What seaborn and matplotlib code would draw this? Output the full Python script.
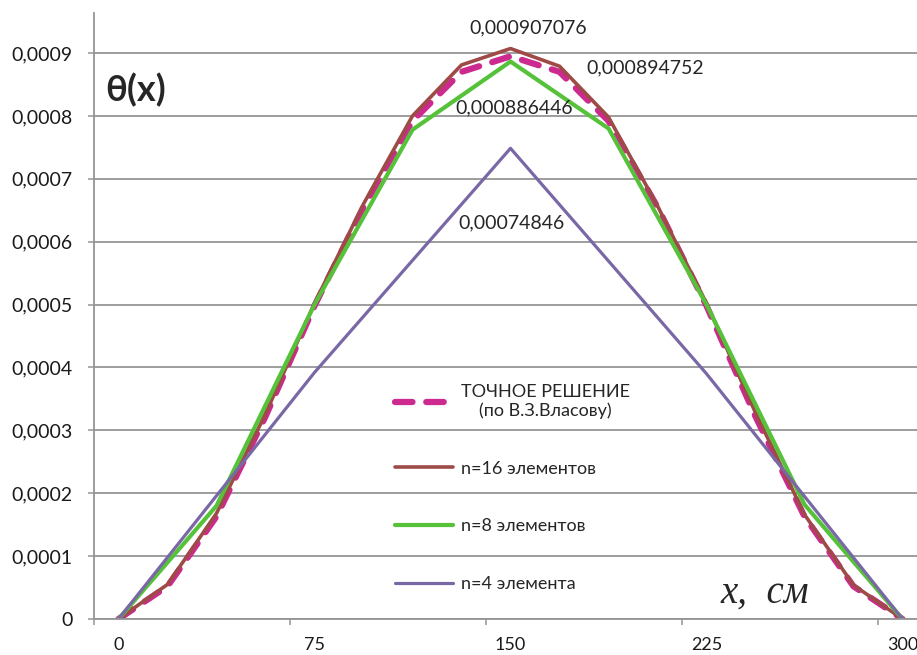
import matplotlib
matplotlib.use("Agg")
import matplotlib.pyplot as plt
from matplotlib.ticker import FixedLocator, FixedFormatter, NullFormatter, FuncFormatter
import numpy as np
import seaborn as sns

# Coordinates along the beam, cm (nodes of each mesh)
x16 = [0, 18.75, 37.5, 56.25, 75, 93.75, 112.5, 131.25, 150,
       168.75, 187.5, 206.25, 225, 243.75, 262.5, 281.25, 300]
x8 = [0, 37.5, 75, 112.5, 150, 187.5, 225, 262.5, 300]
x4 = [0, 75, 150, 225, 300]

# Twist angle theta(x)
theta_exact = [0, 0.000052, 0.000163, 0.000322, 0.000498, 0.000655, 0.000792, 0.000870,
               0.000894752, 0.000870, 0.000792, 0.000655, 0.000498, 0.000322, 0.000163,
               0.000052, 0]
theta_n16 = [0, 0.000055, 0.000168, 0.000326, 0.000502, 0.000660, 0.000800, 0.000881,
             0.000907076, 0.000879, 0.000798, 0.000657, 0.000502, 0.000328, 0.000166,
             0.000054, 0]
theta_n8 = [0, 0.000180, 0.000500, 0.000778, 0.000886446, 0.000780, 0.000500, 0.000182, 0]
theta_n4 = [0, 0.000392, 0.00074846, 0.000390, 0]

labels = ["ТОЧНОЕ РЕШЕНИЕ\n(по В.З.Власову)", "n=16 элементов", "n=8 элементов", "n=4 элемента"]
colors = ["#CC2A8E", "#9E4B47", "#55C23A", "#7A68A6"]
widths = [4.5, 2.6, 3.0, 2.3]

x_ticks = [0, 75, 150, 225, 300]
x_tick_labels = ["0", "75", "150", "225", "300"]
y_ticks = [0, 0.0001, 0.0002, 0.0003, 0.0004, 0.0005, 0.0006, 0.0007, 0.0008, 0.0009]

sns.set_style("white")
plt.rcParams["font.family"] = ["Lato", "DejaVu Sans"]

GRAY = "#959595"
W, H = 917, 655
fig = plt.figure(figsize=(W / 100, H / 100), dpi=100)
ax = fig.add_axes([94 / W, 36 / H, (927 - 94) / W, (619 - 13) / H])

series = [(x16, theta_exact), (x16, theta_n16), (x8, theta_n8), (x4, theta_n4)]
for (xs, ys), lab, col, lw in zip(series, labels, colors, widths):
    sns.lineplot(x=xs, y=ys, ax=ax, color=col, lw=lw, label=lab,
                 sort=False, errorbar=None)

for ln in ax.lines:
    ln.set_solid_joinstyle("round")
    ln.set_solid_capstyle("round")
exact_line = ax.lines[0]
exact_line.set_dashes([2.8, 2.2])
exact_line.set_dash_capstyle("round")

ax.set_xlim(-9.375, 309.375)
ax.set_ylim(0, 0.0009636)

# Category-style axis: ticks between groups, labels at the nodes
ax.xaxis.set_major_locator(FixedLocator([-9.375, 65.625, 140.625, 215.625, 290.625]))
ax.xaxis.set_major_formatter(NullFormatter())
ax.xaxis.set_minor_locator(FixedLocator(x_ticks))
ax.xaxis.set_minor_formatter(FixedFormatter(x_tick_labels))
ax.tick_params(axis="x", which="major", bottom=True, length=4.5, width=1.1,
               color=GRAY, direction="out")
ax.tick_params(axis="x", which="minor", bottom=True, length=0, pad=13,
               labelsize=13, labelcolor="#1a1a1a")

ax.yaxis.set_major_locator(FixedLocator(y_ticks))
ax.yaxis.set_major_formatter(FuncFormatter(
    lambda v, p: "0" if abs(v) < 1e-12 else f"{v:.4f}".replace(".", ",")))
ax.tick_params(axis="y", left=True, length=4.5, width=1.1, color=GRAY,
               direction="out", pad=11, labelsize=14, labelcolor="#1a1a1a")

ax.yaxis.grid(True, color=GRAY, lw=1.3)
ax.xaxis.grid(False)
ax.set_axisbelow(True)
for side in ("top", "right"):
    ax.spines[side].set_visible(False)
for side in ("left", "bottom"):
    ax.spines[side].set_color(GRAY)
    ax.spines[side].set_linewidth(1.3)
ax.set_xlabel("")
ax.set_ylabel("")


def as_label(v):
    return f"{v}".replace(".", ",")


# Peak value labels
ax.annotate(as_label(theta_n16[8]), xy=(x16[8], theta_n16[8]), xytext=(18, 21),
            textcoords="offset pixels", ha="center", va="center", fontsize=14)
ax.annotate(as_label(theta_exact[8]), xy=(x16[8], theta_exact[8]), xytext=(76, -12),
            textcoords="offset pixels", ha="left", va="center", fontsize=14)
ax.annotate(as_label(theta_n8[4]), xy=(x8[4], theta_n8[4]), xytext=(4, -46),
            textcoords="offset pixels", ha="center", va="center", fontsize=14)
ax.annotate(as_label(theta_n4[2]), xy=(x4[2], theta_n4[2]), xytext=(1, -75),
            textcoords="offset pixels", ha="center", va="center", fontsize=14)

leg = ax.legend(loc="upper left", bbox_to_anchor=(395 / W, 1 - 384 / H),
                bbox_transform=fig.transFigure, frameon=False, fontsize=13,
                labelspacing=2.3, handlelength=3.2, handletextpad=0.45,
                borderpad=0, borderaxespad=0)
leg.get_texts()[0].set_multialignment("center")

# Axis captions inside the plot area
fig.text(105 / W, 1 - 90 / H, "θ(x)", fontsize=26, fontweight="bold",
         ha="left", va="center")
fig.text(720 / W, 1 - 593 / H, "x,  см", fontsize=28, style="italic",
         family=["Liberation Serif", "DejaVu Serif"], ha="left", va="center")

fig.savefig("out.png", dpi=100)
